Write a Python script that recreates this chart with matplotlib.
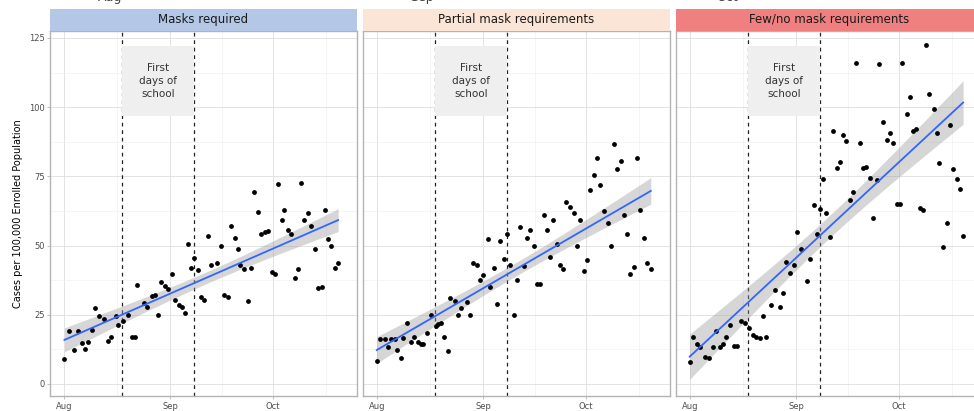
import numpy as np
import matplotlib.pyplot as plt
from matplotlib.patches import Rectangle

panel_titles = ['Masks required', 'Partial mask requirements', 'Few/no mask requirements']
strip_colors = ['#b4c7e7', '#fbe5d6', '#f08080']

# days since Aug 1, cases per 100,000 enrolled
masks_days = [0.2, 1.4, 3.1, 4.3, 5.2, 6.2, 7.2, 8.1, 9.1, 10.3, 11.7, 12.9, 13.8, 15.1, 15.9,
              17.2, 18.6, 19.8, 20.8, 21.5, 23.4, 24.3, 25.8, 26.7, 27.5, 28.4, 29.6, 30.3, 31.5,
              32.3, 33.6, 34.4, 35.3, 36.3, 37.2, 38.0, 39.1, 40.1, 41.0, 42.0, 42.9, 44.8, 45.8,
              46.8, 47.9, 48.7, 49.8, 50.9, 51.5, 52.7, 53.6, 54.6, 55.6, 56.6, 57.5, 58.7, 59.6,
              60.6, 61.5, 62.5, 63.5, 64.2, 65.4, 66.3, 67.3, 68.2, 69.2, 70.1, 71.3, 72.2, 73.3,
              74.2, 75.2, 76.1, 77.1, 78.0, 79.0, 80.0]
masks_cases = [9.1, 19.2, 12.3, 19.0, 14.7, 12.6, 15.1, 19.6, 27.4, 24.4, 23.6, 15.6, 17.1, 24.6, 21.4,
               22.6, 24.8, 16.8, 17.1, 35.6, 29.2, 27.8, 31.9, 32.0, 24.8, 36.7, 35.3, 34.3, 39.7,
               30.2, 28.4, 27.8, 25.6, 50.4, 41.9, 45.5, 41.3, 31.3, 30.4, 53.4, 43.1, 43.7, 49.8,
               32.0, 31.4, 57.2, 52.8, 48.8, 43.1, 41.7, 29.8, 41.9, 69.4, 62.1, 54.2, 55.0, 55.4,
               40.3, 39.9, 72.3, 59.4, 63.0, 55.8, 54.0, 38.3, 41.7, 72.5, 59.4, 61.6, 57.2, 48.8,
               34.7, 34.9, 63.0, 52.2, 50.0, 41.9, 43.7]

partial_days = [0.0, 1.1, 2.4, 3.3, 4.3, 5.2, 6.0, 7.0, 7.8, 8.8, 10.0, 10.8, 11.9, 12.9, 13.6,
                14.8, 15.9, 17.2, 17.9, 18.6, 19.6, 20.7, 21.5, 22.7, 23.7, 24.5, 26.2, 27.2, 28.1,
                29.3, 30.1, 31.0, 32.3, 32.9, 34.2, 35.1, 35.8, 37.0, 38.0, 38.9, 39.9, 40.8, 41.8,
                42.9, 43.7, 44.8, 45.8, 46.8, 47.7, 48.7, 49.6, 50.6, 51.5, 52.7, 53.4, 54.2, 55.3,
                56.3, 57.4, 58.4, 59.4, 60.4, 61.4, 62.3, 63.3, 64.2, 65.2, 66.3, 67.3, 68.2, 69.2,
                70.1, 71.1, 72.0, 73.0, 73.9, 74.9, 75.9, 76.8, 77.8, 78.7, 79.9]
partial_cases = [8.3, 16.2, 16.2, 13.3, 16.2, 16.2, 12.1, 9.3, 16.5, 22.2, 15.3, 16.9, 15.1, 14.5, 14.5,
                 18.4, 24.8, 21.1, 21.7, 22.2, 16.9, 12.0, 31.0, 29.8, 24.8, 27.4, 29.5, 24.8, 43.7,
                 43.1, 37.7, 39.3, 52.2, 34.9, 41.9, 28.9, 51.6, 45.2, 54.0, 43.1, 24.8, 37.7, 56.8,
                 42.5, 52.8, 55.8, 50.0, 36.1, 36.1, 61.2, 55.6, 45.9, 59.2, 50.4, 43.1, 41.5, 65.7,
                 64.0, 61.8, 49.8, 59.2, 40.7, 44.9, 70.0, 75.4, 81.8, 71.9, 62.4, 58.2, 50.0, 86.6,
                 77.5, 80.6, 61.2, 54.0, 39.9, 42.3, 81.8, 62.8, 52.8, 43.7, 41.5]

fewno_days = [0.0, 1.0, 2.1, 3.1, 4.6, 5.5, 6.7, 7.8, 8.8, 9.7, 10.7, 11.6, 12.9, 13.8, 15.0,
              16.2, 17.2, 18.4, 19.4, 20.5, 21.5, 22.1, 23.7, 24.8, 26.2, 27.2, 28.1, 29.3, 30.3,
              31.2, 32.4, 34.1, 35.0, 36.1, 37.0, 37.9, 38.8, 39.8, 40.8, 41.8, 42.9, 43.7, 44.7,
              45.6, 46.8, 47.7, 48.5, 49.6, 50.6, 51.5, 52.5, 53.4, 54.6, 55.3, 56.3, 57.4, 58.4,
              59.4, 60.3, 61.3, 62.0, 63.2, 64.1, 65.1, 66.0, 67.0, 67.9, 69.0, 69.8, 71.1, 72.0,
              72.8, 73.7, 74.9, 75.9, 76.8, 77.8, 78.7, 79.7]
fewno_cases = [8.1, 17.1, 14.5, 13.5, 9.9, 9.3, 13.5, 19.0, 13.3, 14.5, 17.1, 21.4, 13.8, 13.9, 22.9,
               22.0, 20.2, 17.8, 17.1, 16.5, 24.6, 16.8, 28.6, 34.1, 27.8, 32.9, 44.0, 40.1, 43.1,
               55.0, 48.6, 37.1, 45.2, 64.6, 54.0, 63.3, 73.9, 61.8, 53.0, 91.4, 78.1, 80.3, 89.9,
               87.8, 66.4, 69.3, 115.9, 87.0, 78.1, 78.5, 74.3, 59.8, 73.7, 115.6, 94.8, 88.0, 90.5,
               87.0, 64.9, 64.9, 115.9, 97.7, 103.5, 91.4, 92.0, 63.6, 63.0, 122.5, 104.7, 99.3, 90.5,
               80.0, 49.5, 58.2, 93.6, 77.5, 74.2, 70.5, 53.4]

school_days = [17, 38]
month_ticks = [0, 31, 61]
month_labels = ['Aug', 'Sep', 'Oct']
y_ticks = [0, 25, 50, 75, 100, 125]

series = [(masks_days, masks_cases), (partial_days, partial_cases), (fewno_days, fewno_cases)]

W, H = 974, 411
fig = plt.figure(figsize=(W / 100, H / 100), dpi=100)

lefts = [50, 363, 676]
pw = 307
top, bottom = 31, 396
strip_top = 9

# cut-off labels from the chart above
for x, lab in zip([110, 422, 727], month_labels):
    fig.text(x / W, 1 - 1 / H, lab, ha='center', va='baseline', fontsize=9, color='#444444')

for i, (left, title, col, (xd, yd)) in enumerate(zip(lefts, panel_titles, strip_colors, series)):
    ax = fig.add_axes([left / W, 1 - bottom / H, pw / W, (bottom - top) / H])
    sax = fig.add_axes([left / W, 1 - top / H, pw / W, (top - strip_top) / H])
    sax.set_facecolor(col)
    sax.set_xticks([])
    sax.set_yticks([])
    for s in sax.spines.values():
        s.set_visible(False)
    sax.text(0.5, 0.5, title, ha='center', va='center', fontsize=8.5, color='#1a1a1a',
             transform=sax.transAxes)

    ax.set_xlim(-4, 85.5)
    ax.set_ylim(-4.34, 127.5)
    ax.set_xticks(month_ticks)
    ax.set_xticks([15.5, 46, 76.5], minor=True)
    ax.set_yticks(y_ticks)
    ax.set_yticks([12.5, 37.5, 62.5, 87.5, 112.5], minor=True)
    ax.grid(which='major', color='#dedede', linewidth=0.6)
    ax.grid(which='minor', color='#eeeeee', linewidth=0.4)
    ax.set_axisbelow(True)
    for s in ax.spines.values():
        s.set_color('#b3b3b3')
        s.set_linewidth(1.0)
    ax.tick_params(which='major', length=2.5, width=0.6, color='#b3b3b3',
                   labelsize=6, labelcolor='#4d4d4d', pad=1.5)
    ax.tick_params(which='minor', length=0)
    ax.set_xticklabels(month_labels)
    if i > 0:
        ax.tick_params(axis='y', length=0, labelleft=False)

    for d in school_days:
        ax.axvline(d, color='#222222', linestyle=(0, (3, 3)), linewidth=0.9, zorder=1)
    ax.add_patch(Rectangle((school_days[0], 96.7), school_days[1] - school_days[0], 25.4,
                           facecolor='#efefef', edgecolor='none', zorder=2))
    ax.text(sum(school_days) / 2, 109.4, 'First\ndays of\nschool', ha='center', va='center',
            fontsize=7.5, color='#333333', linespacing=1.35, zorder=3)

    x = np.array(xd)
    y = np.array(yd)
    slope, icpt = np.polyfit(x, y, 1)
    xs = np.linspace(x.min(), x.max(), 100)
    fit = icpt + slope * xs
    resid = y - (icpt + slope * x)
    n = len(x)
    s_err = np.sqrt(np.sum(resid ** 2) / (n - 2))
    se = s_err * np.sqrt(1 / n + (xs - x.mean()) ** 2 / np.sum((x - x.mean()) ** 2))
    ax.fill_between(xs, fit - 1.99 * se, fit + 1.99 * se, color='#999999', alpha=0.4,
                    linewidth=0, zorder=4)
    ax.scatter(x, y, s=12, color='black', zorder=5, linewidths=0)
    ax.plot(xs, fit, color='#3366ff', linewidth=1.3, zorder=6)

    if i == 0:
        ax.set_ylabel('Cases per 100,000 Enrolled Population', fontsize=7, labelpad=4)

fig.savefig('out.png', dpi=100)
